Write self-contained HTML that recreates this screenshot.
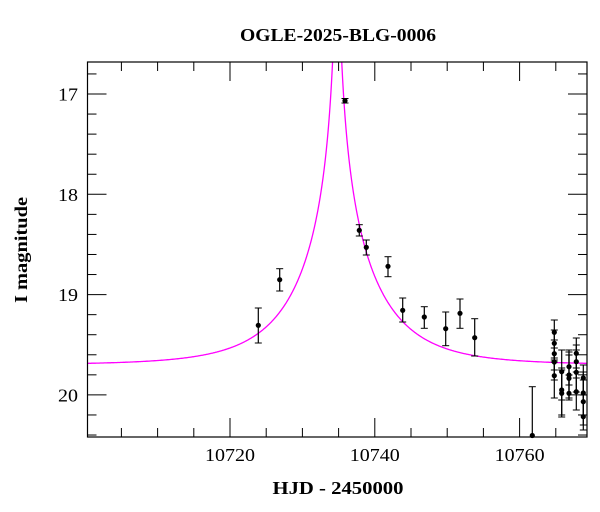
<!DOCTYPE html>
<html><head><meta charset="utf-8"><style>
html,body{margin:0;padding:0;background:#fff;}
svg{display:block;}
text{font-family:"Liberation Serif","DejaVu Serif",serif;fill:#000;}
</style></head><body>
<svg id="s" width="600" height="512" viewBox="0 0 600 512" xmlns="http://www.w3.org/2000/svg">
<defs><clipPath id="c"><rect x="87.5" y="62" width="499.5" height="375"/></clipPath></defs>
<text x="338" y="41" text-anchor="middle" font-size="18" font-weight="bold" textLength="196" lengthAdjust="spacingAndGlyphs">OGLE-2025-BLG-0006</text>
<text x="338" y="494" text-anchor="middle" font-size="18" font-weight="bold" textLength="131" lengthAdjust="spacingAndGlyphs">HJD - 2450000</text>
<text transform="translate(27,250) rotate(-90)" text-anchor="middle" font-size="18" font-weight="bold" textLength="106" lengthAdjust="spacingAndGlyphs">I magnitude</text>
<g id="ticks" stroke="#000" stroke-width="1"></g>
<g id="curve" clip-path="url(#c)"></g>
<g id="data"></g>
<rect x="87.5" y="62" width="499.5" height="375" fill="none" stroke="#000" stroke-width="1.2"/>
</svg>
<script>
var ns="http://www.w3.org/2000/svg",s=document.getElementById('s');
function X(t){return 230+(t-10720)*7.24;}
function Y(m){return 94+(m-17)*100.3;}
function el(p,tag,a,txt){var e=document.createElementNS(ns,tag);for(var k in a)e.setAttribute(k,a[k]);if(txt)e.textContent=txt;p.appendChild(e);return e;}
var T=document.getElementById('ticks');
var L=87.5,R=587,Tp=62,B=437;
for(var t=10705;t<=10769;t+=5){var x=X(t);var mj=(t%20==0);var len=mj?19:9;
 el(T,'line',{x1:x,y1:B,x2:x,y2:B-len});el(T,'line',{x1:x,y1:Tp,x2:x,y2:Tp+len});
 if(mj)el(s,'text',{x:x,y:461,'text-anchor':'middle','font-size':'18',textLength:'50',lengthAdjust:'spacingAndGlyphs'},String(t));}
for(var i=0;i<=18;i++){var m=16.8+i*0.2;var y=Y(m);if(y<Tp||y>B)continue;var mj=Math.abs(m-Math.round(m))<0.01;var len=mj?19:9;
 el(T,'line',{x1:L,y1:y,x2:L+len,y2:y});el(T,'line',{x1:R,y1:y,x2:R-len,y2:y});
 if(mj)el(s,'text',{x:78,y:y+6.5,'text-anchor':'end','font-size':'18',textLength:'20',lengthAdjust:'spacingAndGlyphs'},String(Math.round(m)));}
var t0=10734.8,tE=10.8,u0=0.02,m0=19.7,d="";
for(var px=87;px<=588;px+=0.5){var t=10720+(px-230)/7.24;var tau=(t-t0)/tE;var u=Math.sqrt(u0*u0+tau*tau);
 var A=(u*u+2)/(u*Math.sqrt(u*u+4));var m=m0-2.5*Math.log10(A);var y=Math.max(Y(m),0);d+=(d?"L":"M")+px.toFixed(1)+","+y.toFixed(1);}
el(document.getElementById('curve'),'path',{d:d,fill:'none',stroke:'#ff00ff','stroke-width':'1.3'});
var D=document.getElementById('data');
var pts=[[258.3,325.3,308,343],[279.7,279.7,268.7,291],[345,100.7,98.5,103],[359.3,230.3,224.7,236],[366.3,247.3,240,255],[388,266.3,256.7,276.7],[402.7,310.3,298,322],[424.3,317,306.7,328.3],[445.7,328.7,312,345.7],[460,313.3,299,328.3],[474.7,337.7,318.7,356],
[532.3,435.5,386.7,437],
[554.3,332.3,320,358],[554.3,343.3,330,362],[554.3,353.7,340,370],[554.3,362,348,380],[554.3,375.7,360,398],
[561.7,371.7,350,400],[561.7,390,368,415],[561.7,393.3,370,417],
[569,366.7,350,385],[569,375,352,398],[569,378.3,355,400],[569,393.3,375,400],
[576.3,353.3,338,368],[576.3,361.7,345,378],[576.3,372.3,350,392],[576.3,391.7,372,410],
[583.3,378,365,395],[583.3,393,372,415],[583.3,401.7,380,425],[583.3,416.7,395,430]];
pts.forEach(function(p){var x=p[0];
 el(D,'line',{x1:x,y1:p[2],x2:x,y2:p[3],stroke:'#000','stroke-width':'1.2'});
 el(D,'line',{x1:x-3.5,y1:p[2],x2:x+3.5,y2:p[2],stroke:'#000','stroke-width':'1'});
 el(D,'line',{x1:x-3.5,y1:p[3],x2:x+3.5,y2:p[3],stroke:'#000','stroke-width':'1'});
 el(D,'circle',{cx:x,cy:p[1],r:2.6,fill:'#000'});});
</script>
</body></html>
